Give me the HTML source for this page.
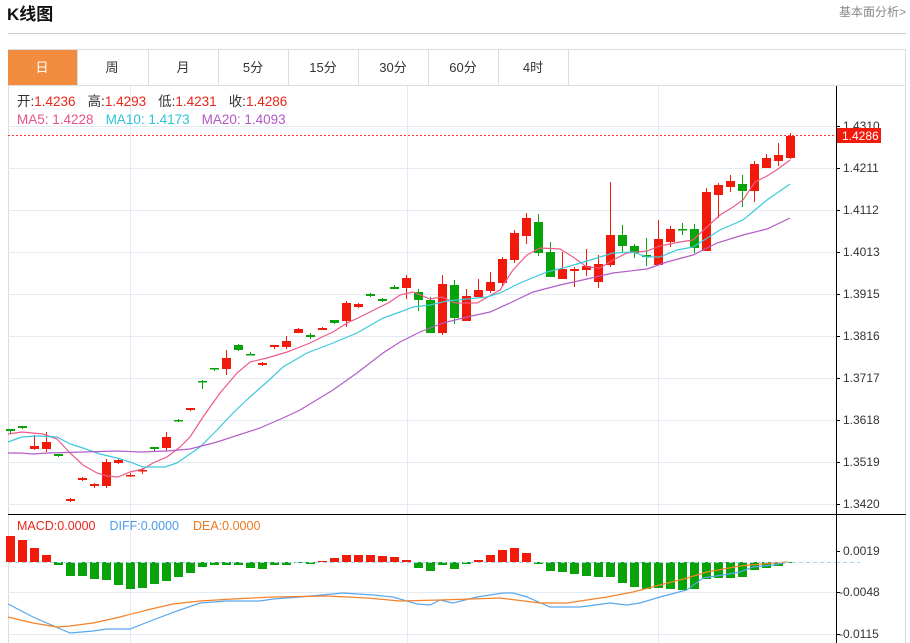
<!DOCTYPE html>
<html><head><meta charset="utf-8"><style>
body{margin:0;width:910px;height:643px;background:#fff;overflow:hidden;font-family:"Liberation Sans","Noto Sans CJK SC",sans-serif;}
svg{position:absolute;left:0;top:0}
</style></head><body>
<svg id="s" width="910" height="643" xmlns="http://www.w3.org/2000/svg" font-family="Liberation Sans, Noto Sans CJK SC, sans-serif">
<text x="7" y="20" font-size="17" font-weight="bold" fill="#111">K线图</text>
<text x="906" y="16" font-size="12" fill="#888" text-anchor="end">基本面分析&gt;</text>
<line x1="8" y1="33.5" x2="906" y2="33.5" stroke="#ccc"/>
<rect x="8.5" y="49.5" width="897" height="600" fill="none" stroke="#ddd"/>
<line x1="8" y1="85.5" x2="906" y2="85.5" stroke="#ddd"/>
<rect x="8" y="50" width="69" height="35" fill="#f28c3f"/>
<g stroke="#ddd"><line x1="77.5" y1="50" x2="77.5" y2="85"/><line x1="148.5" y1="50" x2="148.5" y2="85"/><line x1="218.5" y1="50" x2="218.5" y2="85"/><line x1="288.5" y1="50" x2="288.5" y2="85"/><line x1="358.5" y1="50" x2="358.5" y2="85"/><line x1="428.5" y1="50" x2="428.5" y2="85"/><line x1="498.5" y1="50" x2="498.5" y2="85"/><line x1="568.5" y1="50" x2="568.5" y2="85"/></g>
<g font-size="13" text-anchor="middle" fill="#333"><text x="42" y="72" fill="#fff">日</text><text x="112" y="72">周</text><text x="183" y="72">月</text><text x="253" y="72">5分</text><text x="323" y="72">15分</text><text x="393" y="72">30分</text><text x="463" y="72">60分</text><text x="533" y="72">4时</text></g>
<g id="grid" stroke="#e3ebf2"></g>
<g>
<text x="17" y="106" font-size="13.5"><tspan fill="#333">开:</tspan><tspan fill="#e8261a">1.4236</tspan><tspan fill="#333" dx="12">高:</tspan><tspan fill="#e8261a">1.4293</tspan><tspan fill="#333" dx="12">低:</tspan><tspan fill="#e8261a">1.4231</tspan><tspan fill="#333" dx="12">收:</tspan><tspan fill="#e8261a">1.4286</tspan></text>
<text x="17" y="124" font-size="13.5"><tspan fill="#e8508a">MA5: 1.4228</tspan><tspan fill="#2ec2d6" dx="12">MA10: 1.4173</tspan><tspan fill="#b556c8" dx="12">MA20: 1.4093</tspan></text>
<text x="17" y="530" font-size="12.5"><tspan fill="#e8261a">MACD:0.0000</tspan><tspan fill="#4a9de8" dx="14">DIFF:0.0000</tspan><tspan fill="#f07820" dx="14">DEA:0.0000</tspan></text>
</g>
<g id="c"></g>
<line x1="8" y1="135.5" x2="836" y2="135.5" stroke="#f33" stroke-dasharray="2,2"/>
<line x1="8" y1="562.5" x2="836" y2="562.5" stroke="#a9d3ec" stroke-dasharray="4,3"/>
<line x1="836" y1="562.5" x2="860" y2="562.5" stroke="#a9d3ec" stroke-dasharray="4,3"/>
<line x1="8" y1="514.5" x2="906" y2="514.5" stroke="#000"/>
<line x1="836.5" y1="86" x2="836.5" y2="643" stroke="#000"/>
<g id="ax" font-size="12" fill="#333"></g>
<rect x="837" y="128" width="44" height="15" fill="#f21a0a"/>
<text x="842" y="140" font-size="12" fill="#fff">1.4286</text>
</svg>
<script>
var NS="http://www.w3.org/2000/svg",S=document.getElementById('s');
function el(p,t,a){var e=document.createElementNS(NS,t);for(var k in a)e.setAttribute(k,a[k]);p.appendChild(e);return e;}
var G=document.getElementById('grid');
[126,168,210,252,294,336,378,420,462,504,592,634].forEach(function(y){el(G,'line',{x1:8,x2:836,y1:y+.5,y2:y+.5});});
[130,407,658].forEach(function(x){el(G,'line',{x1:x+.5,x2:x+.5,y1:86,y2:643});});
var AX=document.getElementById('ax');
var lab=[[126,'1.4310'],[168,'1.4211'],[210,'1.4112'],[252,'1.4013'],[294,'1.3915'],[336,'1.3816'],[378,'1.3717'],[420,'1.3618'],[462,'1.3519'],[504,'1.3420'],[551,'0.0019'],[592,'-0.0048'],[634,'-0.0115']];
lab.forEach(function(l){el(AX,'line',{x1:836,x2:840,y1:l[0]+.5,y2:l[0]+.5,stroke:'#000'});var t=el(AX,'text',{x:l[1][0]=='-'?839:843,y:l[0]+4});t.textContent=l[1];});
var C=document.getElementById('c');
var R='#f21a0a',Gr='#08a308';
var d=[[429,431,429,433,0],[426,428,426,429,0],[446,449,435,450,1],[442,449,432,452,1],[454,456,454,457,0],[499,501,498,502,1],[478,480,477,481,1],[484,486,483,488,1],[462,486,459,488,1],[460,463,459,464,1],[475,476,473,477,1],[470,471,468,474,1],[447,449,447,451,0],[437,448,432,451,1],[420,421,419,422,0],[408,410,408,411,1],[381,382,380,389,0],[368,369,368,371,0],[358,369,350,375,1],[345,350,344,351,0],[354,355,352,355,0],[363,365,362,366,1],[345,347,345,349,1],[341,347,336,349,1],[329,333,328,333,1],[335,337,333,339,0],[328,330,327,330,1],[320,323,320,324,0],[303,321,301,327,1],[304,307,303,308,1],[294,296,293,297,0],[299,301,298,302,0],[287,289,285,289,0],[278,288,275,299,1],[292,300,289,311,0],[300,333,297,333,0],[284,333,275,335,1],[285,318,280,324,0],[296,321,289,321,1],[290,297,279,297,1],[282,291,272,293,1],[259,283,257,287,1],[233,260,230,263,1],[218,236,213,244,1],[222,253,214,256,0],[252,277,242,277,0],[269,279,252,279,1],[269,271,267,287,1],[266,270,249,276,1],[264,282,255,288,1],[235,265,182,267,1],[235,246,225,253,0],[246,253,244,258,0],[255,257,238,266,0],[239,265,220,265,1],[229,242,226,247,1],[229,230,223,235,0],[229,248,224,253,0],[192,251,188,251,1],[185,195,183,218,1],[181,187,175,192,1],[184,191,175,207,0],[164,191,161,202,1],[158,168,154,168,1],[155,161,143,166,1],[136,158,133,159,1]];
d.forEach(function(c,i){var x=10+12*i,col=c[4]?R:Gr;el(C,'line',{x1:x+.5,x2:x+.5,y1:c[2],y2:c[3],stroke:col});el(C,'rect',{x:x-4,y:c[0],width:9,height:Math.max(1.5,c[1]-c[0]),fill:col});});
var m=[26,22,14,7,-3,-14,-14,-17,-18,-23,-27,-26,-22,-19,-15,-11,-5,-3,-3,-3,-6,-7,-3,-3,-1,-2,1,4,7,7,7,6,5,2,-6,-9,-3,-7,-2,2,7,12,14,9,-2,-9,-10,-12,-14,-15,-15,-21,-25,-27,-26,-27,-28,-27,-17,-16,-16,-15,-8,-6,-4,-1];
m.forEach(function(v,i){var x=10+12*i;el(C,'rect',{x:x-4,y:v>0?562-v:562,width:9,height:Math.abs(v),fill:v>0?R:Gr});});
function pl(p,c){el(C,'polyline',{points:p,fill:'none',stroke:c,'stroke-width':1.2});}
pl("8,434 22,432 43,434 57,439 70,453 83,465 97,473 107,476 118,477 130,472 143,469 153,463 167,457 180,447 190,437 203,417 220,393 237,373 250,362 267,358 287,352 310,343 322,337 333,332 347,323 358,318 372,311 390,302 400,295 413,292 430,299 442,297 455,303 477,303 500,290 513,270 527,255 540,248 560,249 573,257 587,267 600,268 613,260 627,253 647,251 660,246 680,242 693,240 707,227 720,215 733,207 743,200 755,182 767,176 778,169 790,160","#ee5a8a");
pl("8,442 22,437 37,436 57,437 70,444 83,448 100,454 117,458 130,462 143,467 165,467 177,463 200,447 217,430 233,413 250,397 267,382 283,367 307,353 333,343 357,333 383,318 400,312 413,307 430,305 447,301 467,299 487,297 500,293 520,283 547,272 567,267 597,258 613,253 633,252 647,257 660,257 677,250 693,247 720,230 743,220 767,200 790,184","#3cc9dc");
pl("8,453 20,453 33,454 47,453 83,452 117,451 140,452 167,451 190,449 217,442 260,428 283,418 300,410 333,390 357,373 383,353 400,342 420,332 443,323 467,317 490,312 510,303 533,292 560,285 587,279 613,273 647,269 667,262 693,255 717,243 743,235 767,229 790,218","#b45cc8");
pl("8,604 33,617 70,633 93,631 107,629 130,629 153,620 177,611 200,603 227,601 260,601 273,599 300,597 343,593 373,595 393,597 417,604 430,605 440,600 453,603 477,597 503,593 513,593 527,597 550,607 580,607 610,603 627,605 640,603 660,597 687,590 703,578 723,575 740,572 753,567 773,565 783,563 788,562","#5aa8ec");
pl("8,617 33,623 57,627 70,626 93,623 120,617 147,610 173,604 200,601 233,599 273,597 327,596 367,598 400,601 440,600 500,598 540,603 567,603 607,597 633,592 660,585 687,578 707,572 740,566 773,563 788,562","#f5822a");
</script>
</body></html>
